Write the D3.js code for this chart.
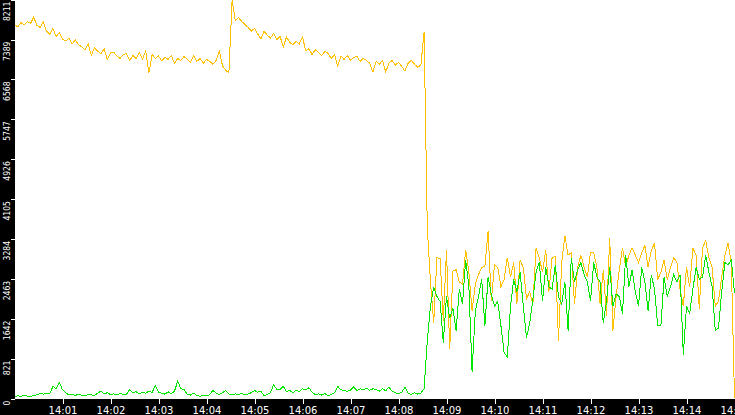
<!DOCTYPE html>
<html>
<head>
    <meta charset="UTF-8">
    <style>
        body { margin: 0; background: #fff; }
        .axis text {
            fill: #fff;
        }
        .axis line {
            stroke: #fff;
            shape-rendering: crispEdges;
        }
        .yaxis text {
            font-family: "DejaVu Sans Condensed", "DejaVu Sans", sans-serif;
            font-size: 8.5px;
        }
        .xaxis text {
            font-family: "DejaVu Sans", sans-serif;
            font-size: 10px;
        }
        .series {
            fill: none;
            stroke-width: 1;
            shape-rendering: crispEdges;
        }
    </style>
</head>
<body>
    <script src="https://cdn.jsdelivr.net/npm/d3@7"></script>
    <script>
        // one sample every 4 seconds, from 14:00:00 to 14:15:00
        var startTime = new Date(2000, 0, 1, 14, 0, 0);
        var stepSeconds = 4;

        var yellowValues = [
            7697, 7650, 7740, 7690, 7760, 7720, 7850, 7680, 7640, 7750, 7560,
            7500, 7620, 7450, 7530, 7400, 7360, 7420, 7300, 7380, 7280,
            7240, 7180, 7300, 7060, 7220, 7150, 7100, 7200, 6980, 7120,
            7130, 7050, 7000, 7080, 7100, 6960, 7060, 7000, 7110, 6990,
            7150, 6700, 7080, 7000, 7050, 6950, 7020, 6980, 7060, 6900,
            7000, 6960, 7040, 6980, 6920, 7060, 6940, 7000, 6900, 6980,
            6940, 6880, 6960, 7150, 6850, 6760, 6700,
            8200, 7780, 7840, 7760,
            7700, 7640, 7560, 7620, 7500, 7400, 7560, 7480, 7420, 7520,
            7390, 7450, 7240, 7440, 7330, 7280, 7350, 7300, 7440, 7160,
            7200, 7080, 7180, 7120, 7060, 7150, 7100, 7000, 7080, 6840,
            7050, 6980, 7060, 6960, 7020, 7040, 6940, 7000, 6960, 6900,
            6720, 6940, 6880, 6960, 6720, 6900, 6960, 6860, 6920, 6840,
            6740, 6900, 6960, 6880, 6820, 6860, 7550,
            3500, 2400, 1550, 2900, 2880, 1600, 3050, 1010, 2620, 2650,
            2400, 2350, 3060, 2600, 1800, 2350, 2550, 2700, 2720, 3450,
            2000, 2750, 2700, 2300, 2450, 2900, 2500, 2800, 1950, 2850,
            2700, 2050, 2200, 1950, 3100, 2900, 2600, 3050, 2200, 2900,
            2920, 1180, 2800, 3350, 2950, 3000, 1950, 2700, 2950, 2700,
            2500, 3000, 3000, 2700, 1950, 2650, 1700, 3300, 1400, 2100,
            2650, 3100, 2700, 2950, 3100, 2950, 2800, 3000, 3150, 2700,
            3050, 3200, 2450, 2600, 2850, 2450, 2700, 2900, 2800, 2250,
            1900, 2700, 2300, 3100, 2950, 1850, 3100, 3250, 2900, 2700,
            1900, 2000, 2500, 2950, 3200, 2800, 0
        ];

        var greenValues = [
            40, 55, 45, 60, 50, 45, 60, 80, 100, 90, 110,
            95, 250, 200, 330, 180, 120, 70, 85, 60, 90,
            70, 60, 80, 75, 65, 110, 150, 90, 120, 80,
            95, 70, 100, 85, 90, 185, 120, 140, 100, 130,
            110, 150, 120, 268, 130, 110, 90, 140, 100, 150,
            356, 200, 180, 90, 70, 110, 60, 45, 70, 55,
            80, 165, 110, 80, 120, 160, 90, 70, 95, 80,
            110, 75, 90, 120, 165, 130, 150, 60, 80, 120,
            288, 180, 190, 250, 140, 165, 120, 170, 140, 200,
            180, 220, 130, 80, 95, 70, 100, 60, 85, 120,
            250, 180, 165, 150, 170, 240, 160, 200, 180, 210,
            170, 200, 190, 150, 200, 160, 240, 150, 120, 100,
            130, 230, 110, 80, 120, 90, 110, 200,
            1200, 1900, 2300, 2100, 2000, 1150, 2100, 1650, 1850, 1400,
            2250, 1950, 2850, 2300, 550, 1800, 2100, 2450, 1500, 2500,
            2150, 1900, 2000, 1500, 950, 850, 1900, 2450, 2200, 2600,
            1900, 1250, 1550, 2050, 2600, 2800, 2000, 2700, 2300, 2250,
            2750, 2100, 1950, 2400, 1400, 2900, 2400, 2650, 2800, 2550,
            2400, 2000, 2800, 2500, 2400, 1550, 2000, 2700, 1900, 2150,
            2100, 1750, 2950, 2300, 2650, 2200, 1900, 2700, 2400, 1800,
            2550, 2250, 1500, 1500, 2500, 2100, 2300, 2550, 2400, 2550,
            900, 1900, 1750, 2250, 2700, 2450, 2500, 2950, 2600, 2300,
            1400, 1450, 2200, 2800, 2750, 2850, 2180
        ];

        var yTicks = [0, 821, 1642, 2463, 3284, 4105, 4926, 5747, 6568, 7389, 8211];
        var xTickLabels = ["14:01", "14:02", "14:03", "14:04", "14:05", "14:06", "14:07",
            "14:08", "14:09", "14:10", "14:11", "14:12", "14:13", "14:14", "14:15"];

        var w = 735;
        var h = 415;
        var left = 15;
        var bottom = 399;

        var times = yellowValues.map((d, i) => new Date(startTime.getTime() + i * stepSeconds * 1000));
        var endTime = new Date(2000, 0, 1, 14, 15, 0);

        var xScale = d3.scaleTime()
            .domain([startTime, endTime])
            .range([14.5, 734.5]);
        var yScale = d3.scaleLinear()
            .domain([0, 8211])
            .range([398.5, -0.4]);

        var svg = d3.select("body")
            .append("svg")
            .attr("width", w)
            .attr("height", h);

        svg.append("rect")
            .attr("width", w).attr("height", h)
            .attr("fill", "#fff");

        var line = d3.line()
            .x((d, i) => xScale(times[i]))
            .y(d => yScale(d));

        svg.append("path")
            .datum(yellowValues)
            .attr("class", "series")
            .attr("stroke", "#ffc000")
            .attr("d", line);
        svg.append("path")
            .datum(greenValues)
            .attr("class", "series")
            .attr("stroke", "#00e600")
            .attr("d", line);

        // black frame strips
        svg.append("rect")
            .attr("x", 0).attr("y", 0)
            .attr("width", left).attr("height", h)
            .attr("fill", "#000");
        svg.append("rect")
            .attr("x", 0).attr("y", bottom)
            .attr("width", w).attr("height", h - bottom)
            .attr("fill", "#000");

        var parseHM = d3.timeParse("%H:%M");
        var xTickDates = xTickLabels.map(s => {
            var p = parseHM(s);
            return new Date(2000, 0, 1, p.getHours(), p.getMinutes(), 0);
        });

        var xAxis = d3.axisBottom(xScale)
            .tickValues(xTickDates)
            .tickFormat((d, i) => xTickLabels[i])
            .tickSize(5)
            .tickSizeOuter(0);
        var gx = svg.append("g")
            .attr("class", "axis xaxis")
            .attr("transform", `translate(0, ${bottom})`)
            .call(xAxis);
        gx.select(".domain").remove();
        gx.selectAll("text").attr("y", 14.5).attr("dy", null);

        var yAxis = d3.axisLeft(yScale)
            .tickValues(yTicks)
            .tickFormat(d3.format("d"))
            .tickSize(4)
            .tickSizeOuter(0);
        var gy = svg.append("g")
            .attr("class", "axis yaxis")
            .attr("transform", `translate(${left}, 0)`)
            .call(yAxis);
        gy.select(".domain").remove();
        gy.selectAll("text")
            .attr("x", null)
            .attr("dy", null)
            .attr("text-anchor", "end")
            .attr("transform", "translate(-5.5, 1.5) rotate(-90)");
    </script>
</body>
</html>
